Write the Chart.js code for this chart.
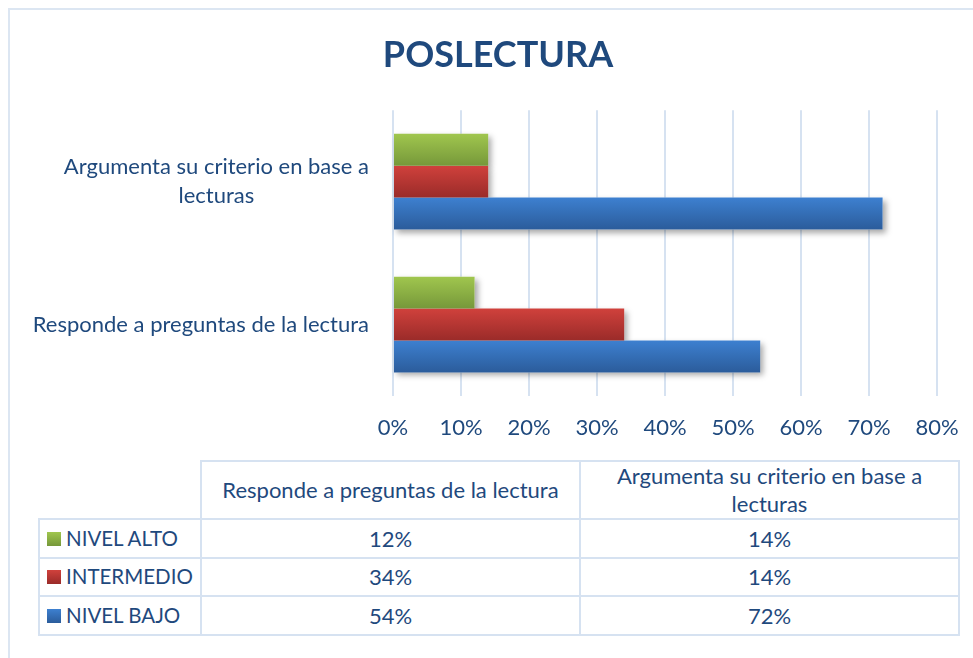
<!DOCTYPE html>
<html>
<head>
<meta charset="utf-8">
<script src="https://cdn.jsdelivr.net/npm/chart.js@4.4.1/dist/chart.umd.min.js"></script>
<style>
html,body{margin:0;padding:0;background:#fff;overflow:hidden;width:973px;height:658px;}
#frame{position:absolute;left:8px;top:8px;width:1000px;height:700px;border:2px solid #DCE6F2;box-sizing:border-box;}
#c{position:absolute;left:0;top:0;}
#tbl{position:absolute;left:38px;top:460px;width:920px;border-collapse:collapse;table-layout:fixed;font-family:Lato,sans-serif;font-size:22px;color:#1F497D;}
#tbl td,#tbl th{border:2px solid #D6E2F1;padding:0;text-align:center;font-weight:normal;line-height:29px;overflow:visible;}
#tbl th{line-height:28px;}
#tbl th.blank{border-top:none;border-left:none;}
#tbl tr.head{height:58px;}
#tbl tr.row{height:38.5px;}
#tbl td.name{text-align:left;padding-left:7px;white-space:nowrap;font-size:20.5px;}
.key{display:inline-block;width:14px;height:14px;margin-right:5px;vertical-align:0px;}
</style>
</head>
<body>
<div id="frame"></div>
<canvas id="c" width="973" height="458"></canvas>
<table id="tbl"></table>
<script>
// ---- data ----
const categories = ["Responde a preguntas de la lectura", "Argumenta su criterio en base a lecturas"];
const categoryLines = [["Responde a preguntas de la lectura"], ["Argumenta su criterio en base a", "lecturas"]];
const seriesNames = ["NIVEL ALTO", "INTERMEDIO", "NIVEL BAJO"];
const nivelAlto = [12, 14];
const intermedio = [34, 14];
const nivelBajo = [54, 72];
const xTicks = [0, 10, 20, 30, 40, 50, 60, 70, 80];
const chartTitle = "POSLECTURA";

// ---- styles ----
const TEXT = '#1F497D';
const FONT = 'Lato';
const palette = [
  ['#A0C64E', '#76983A'],
  ['#D0413C', '#9A2B29'],
  ['#3D80D0', '#2B5C9B']
];
const CAT_PCT = 0.67;

function gradFill(dsIndex) {
  const [c1, c2] = palette[dsIndex];
  return (c) => {
    const chart = c.chart;
    const ys = chart.scales && chart.scales.y;
    if (c.type !== 'data' || !ys || !chart.chartArea) return c1;
    const n = chart.data.labels.length;
    const cat = ys.height / n;
    const group = cat * CAT_PCT;
    const chunk = group / chart.data.datasets.length;
    const center = ys.getPixelForValue(c.dataIndex);
    const top = center - group / 2 + c.datasetIndex * chunk;
    const g = chart.ctx.createLinearGradient(0, top, 0, top + chunk);
    g.addColorStop(0, c1);
    g.addColorStop(1, c2);
    return g;
  };
}

const seriesValues = [nivelAlto, intermedio, nivelBajo];
// chart draws categories top-to-bottom in reverse of the table order
const order = categories.map((_, i) => categories.length - 1 - i);

const shadowPlugin = {
  id: 'barShadow',
  beforeDatasetsDraw(chart) {
    const ctx = chart.ctx;
    ctx.save();
    ctx.shadowColor = 'rgba(0,0,0,0.35)';
    ctx.shadowBlur = 6;
    ctx.shadowOffsetX = 3;
    ctx.shadowOffsetY = 3;
    ctx.fillStyle = '#ffffff';
    chart.data.datasets.forEach((ds, di) => {
      chart.getDatasetMeta(di).data.forEach(el => {
        const p = el.getProps(['x', 'y', 'base', 'height'], true);
        ctx.fillRect(p.base, p.y - p.height / 2, p.x - p.base, p.height);
      });
    });
    ctx.restore();
  }
};

const yLabelPlugin = {
  id: 'yLabels',
  afterDraw(chart) {
    const ctx = chart.ctx;
    const ys = chart.scales.y;
    const right = chart.chartArea.left - 24;
    ctx.save();
    ctx.font = '22px ' + FONT;
    ctx.fillStyle = TEXT;
    ctx.textAlign = 'center';
    ctx.textBaseline = 'middle';
    chart.data.labels.forEach((lines, i) => {
      const w = Math.max(...lines.map(l => ctx.measureText(l).width));
      const cx = right - w / 2;
      const cy = ys.getPixelForValue(i);
      lines.forEach((l, j) => ctx.fillText(l, cx, cy + (j - (lines.length - 1) / 2) * 29));
    });
    ctx.restore();
  }
};

new Chart(document.getElementById('c'), {
  type: 'bar',
  data: {
    labels: order.map(i => categoryLines[i]),
    datasets: seriesNames.map((name, di) => ({
      label: name,
      data: order.map(i => seriesValues[di][i]),
      backgroundColor: gradFill(di),
      borderWidth: 0,
      barPercentage: 1.0,
      categoryPercentage: CAT_PCT
    }))
  },
  options: {
    indexAxis: 'y',
    responsive: false,
    animation: false,
    layout: { padding: { left: 59, right: 36, top: 0, bottom: 0 } },
    plugins: {
      legend: { display: false },
      tooltip: { enabled: false },
      title: {
        display: true,
        text: chartTitle,
        color: TEXT,
        font: { family: FONT, size: 36, weight: 'bold' },
        padding: { top: 34, bottom: 33 }
      }
    },
    scales: {
      x: {
        min: xTicks[0],
        max: xTicks[xTicks.length - 1],
        afterBuildTicks: s => { s.ticks = xTicks.map(v => ({ value: v })); },
        afterFit: s => { s.height = 62; s.paddingLeft = 0; s.paddingRight = 0; },
        ticks: {
          color: TEXT,
          font: { family: FONT, size: 22 },
          padding: 19,
          autoSkip: false,
          maxRotation: 0,
          callback: v => v + '%'
        },
        grid: { color: '#D6E2F1', lineWidth: 2, drawTicks: false },
        border: { display: false }
      },
      y: {
        ticks: { display: false },
        grid: { display: false },
        border: { display: false },
        afterFit: s => { s.width = 393 - 59; }
      }
    }
  },
  plugins: [shadowPlugin, yLabelPlugin]
});

// ---- data table ----
const tbl = document.getElementById('tbl');
let html = '<colgroup><col style="width:162px"><col style="width:379px"><col style="width:379px"></colgroup>';
html += '<tr class="head"><th class="blank"></th>' + categoryLines.map(l => '<th>' + l.join('<br>') + '</th>').join('') + '</tr>';
seriesNames.forEach((name, i) => {
  const [c1, c2] = palette[i];
  html += '<tr class="row"><td class="name"><span class="key" style="background:linear-gradient(' + c1 + ',' + c2 + ')"></span>' + name + '</td>' +
    seriesValues[i].map(v => '<td>' + v + '%</td>').join('') + '</tr>';
});
tbl.innerHTML = html;
</script>
</body>
</html>
